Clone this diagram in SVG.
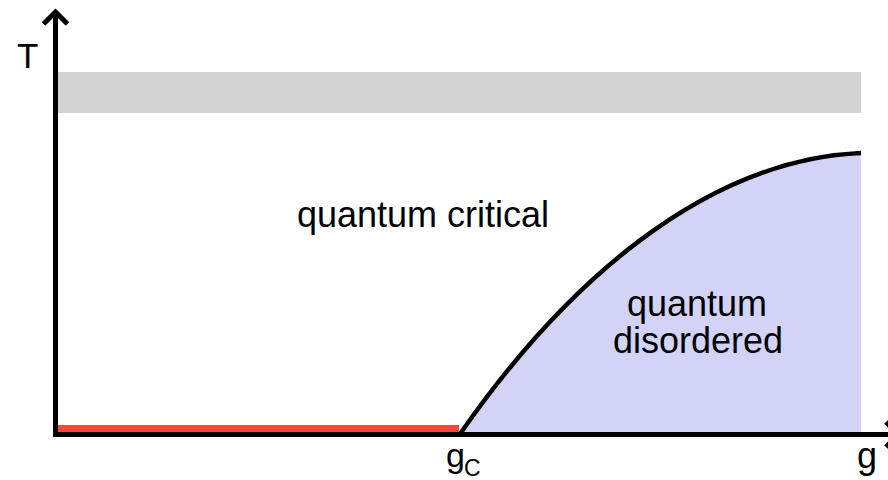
<svg xmlns="http://www.w3.org/2000/svg" width="888" height="480" viewBox="0 0 888 480">
<style>
.lbl{font-family:"Liberation Sans",Arial,sans-serif;fill:#000;}
.axis{stroke:#000;stroke-width:5;fill:none;}
</style>
<rect width="888" height="480" fill="#fff"/>
<g id="crossover-band"><rect x="58" y="72" width="803" height="41" fill="#d3d3d3"/></g>
<g id="disordered-region">
<path d="M460,434 C560,290 700,160 861,153 L861,434 Z" fill="#d2d3f7"/>
<path d="M460,434 C560,290 700,160 861,153" fill="none" stroke="#000" stroke-width="4.5"/>
</g>
<g id="ordered-line"><rect x="58" y="425" width="401" height="8" fill="#f0483e"/></g>
<g id="axes">
<line class="axis" x1="55.5" y1="437" x2="55.5" y2="12"/>
<polyline class="axis" points="43.5,24 55.5,12 67.5,24"/>
<line class="axis" x1="53" y1="434.5" x2="892" y2="434.5"/>
<polyline class="axis" points="886,422 898,434.5 886,447"/>
</g>
<g id="labels">
<text class="lbl" x="17" y="68" font-size="35">T</text>
<text class="lbl" x="297" y="227" font-size="36">quantum critical</text>
<text class="lbl" x="697" y="316" font-size="36" text-anchor="middle">quantum</text>
<text class="lbl" x="698" y="353" font-size="36" text-anchor="middle">disordered</text>
<text class="lbl" x="446" y="467" font-size="34">g</text>
<text class="lbl" x="464" y="476" font-size="23">C</text>
<text class="lbl" x="857" y="468" font-size="36">g</text>
</g>
</svg>
